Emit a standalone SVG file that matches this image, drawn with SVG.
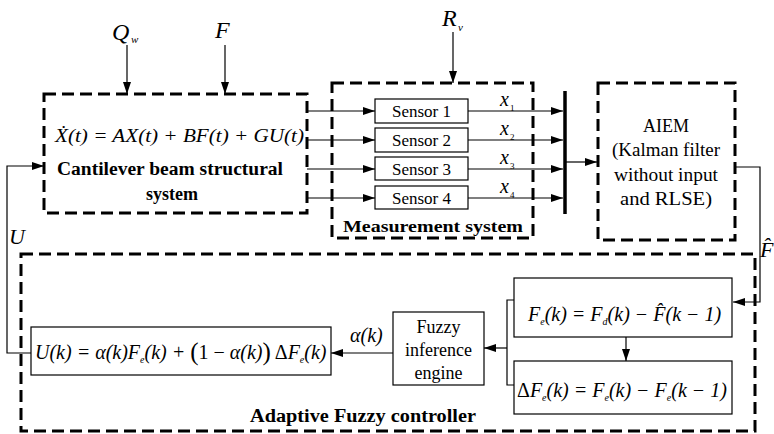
<svg xmlns="http://www.w3.org/2000/svg" width="774" height="434" viewBox="0 0 774 434" font-family="'Liberation Serif', Tinos, 'Times New Roman', 'Noto Serif', 'DejaVu Serif', serif">
<style>
  .dash { fill: none; stroke: #000; stroke-width: 3; stroke-dasharray: 12 6; }
  .box { fill: #fff; stroke: #000; stroke-width: 1.2; }
  .ln { fill: none; stroke: #000; stroke-width: 1.2; }
  .i { font-style: italic; }
  .b { font-weight: bold; }
</style>
<defs>
  <marker id="ah" viewBox="0 0 12 8" refX="12" refY="4" markerWidth="12" markerHeight="8" markerUnits="userSpaceOnUse" orient="auto">
    <path d="M0,0 L12,4 L0,8 Z" fill="#000"/>
  </marker>
</defs>
<rect width="774" height="434" fill="#fff"/>

<g id="inputs">
  <text class="i" x="112" y="40" font-size="24">Q</text>
  <text class="i" x="131" y="43" font-size="11">w</text>
  <text class="i" x="215" y="38" font-size="24">F</text>
  <text class="i" x="442" y="26" font-size="24">R</text>
  <text class="i" x="458" y="31" font-size="11">v</text>
</g>

<g id="cantilever">
  <rect class="dash" x="44" y="94" width="263" height="119"/>
  <text class="i" x="55" y="142" font-size="19" textLength="249" lengthAdjust="spacingAndGlyphs">Ẋ(t) = AX(t) + BF(t) + GU(t)</text>
  <text class="b" x="170" y="175" font-size="18" text-anchor="middle" textLength="226" lengthAdjust="spacingAndGlyphs">Cantilever beam structural</text>
  <text class="b" x="172" y="200" font-size="18" text-anchor="middle">system</text>
</g>

<g id="measurement">
  <rect class="dash" x="332" y="83" width="201" height="155"/>
  <text class="b" x="433" y="232" font-size="17" text-anchor="middle" textLength="180" lengthAdjust="spacingAndGlyphs">Measurement system</text>
</g>
<g id="sensor1"><rect class="box" x="375" y="99" width="93" height="24"/><text x="421.5" y="117" font-size="17" text-anchor="middle">Sensor 1</text></g>
<g id="sensor2"><rect class="box" x="375" y="128" width="93" height="24"/><text x="421.5" y="146" font-size="17" text-anchor="middle">Sensor 2</text></g>
<g id="sensor3"><rect class="box" x="375" y="157" width="93" height="23"/><text x="421.5" y="175" font-size="17" text-anchor="middle">Sensor 3</text></g>
<g id="sensor4"><rect class="box" x="375" y="186" width="93" height="23"/><text x="421.5" y="204" font-size="17" text-anchor="middle">Sensor 4</text></g>

<g id="xlabels">
  <text class="i" x="500" y="106" font-size="20">x</text><text x="510" y="111" font-size="9">1</text>
  <text class="i" x="500" y="135" font-size="20">x</text><text x="510" y="140" font-size="9">2</text>
  <text class="i" x="500" y="164" font-size="20">x</text><text x="510" y="169" font-size="9">3</text>
  <text class="i" x="500" y="193" font-size="20">x</text><text x="510" y="198" font-size="9">4</text>
</g>

<g id="bus">
  <line x1="565" y1="91" x2="565" y2="214" stroke="#000" stroke-width="3.5"/>
</g>

<g id="aiem">
  <rect class="dash" x="598" y="83" width="137" height="157"/>
  <text x="666" y="132" font-size="18" text-anchor="middle">AIEM</text>
  <text x="666" y="156" font-size="18" text-anchor="middle" textLength="108" lengthAdjust="spacingAndGlyphs">(Kalman filter</text>
  <text x="666" y="181" font-size="18" text-anchor="middle" textLength="104" lengthAdjust="spacingAndGlyphs">without input</text>
  <text x="666" y="205" font-size="18" text-anchor="middle" textLength="92" lengthAdjust="spacingAndGlyphs">and RLSE)</text>
</g>

<g id="adaptive">
  <rect class="dash" x="21" y="254" width="734" height="177"/>
  <text class="b" x="363" y="422" font-size="18" text-anchor="middle" textLength="226" lengthAdjust="spacingAndGlyphs">Adaptive Fuzzy controller</text>
</g>

<g id="fe">
  <rect class="box" x="514" y="278" width="218" height="59"/>
  <text class="i" x="528" y="321" font-size="20">F<tspan font-size="10" dy="4">e</tspan><tspan dy="-4">(k) = F</tspan><tspan font-size="10" dy="4">d</tspan><tspan dy="-4">(k) − F̂(k − 1)</tspan></text>
</g>

<g id="dfe">
  <rect class="box" x="514" y="361" width="218" height="53"/>
  <text class="i" x="517" y="397" font-size="20"><tspan font-style="normal">Δ</tspan>F<tspan font-size="10" dy="4">e</tspan><tspan dy="-4">(k) = F</tspan><tspan font-size="10" dy="4">e</tspan><tspan dy="-4">(k) − F</tspan><tspan font-size="10" dy="4">e</tspan><tspan dy="-4">(k − 1)</tspan></text>
</g>

<g id="fuzzy">
  <rect class="box" x="393" y="312" width="91" height="73"/>
  <text x="438.5" y="333" font-size="18" text-anchor="middle">Fuzzy</text>
  <text x="438.5" y="356" font-size="18" text-anchor="middle">inference</text>
  <text x="438.5" y="379" font-size="18" text-anchor="middle">engine</text>
</g>

<g id="ueq">
  <rect class="box" x="31" y="327" width="300" height="48"/>
  <text class="i" x="35" y="359" font-size="20">U(k) = α(k)F<tspan font-size="10" dy="4">e</tspan><tspan dy="-4">(k) + </tspan><tspan font-style="normal" font-size="25" dy="1">(</tspan><tspan font-style="normal" dy="-1">1 − </tspan>α(k)<tspan font-style="normal" font-size="25" dy="1">)</tspan><tspan font-style="normal" dy="-1"> Δ</tspan>F<tspan font-size="10" dy="4">e</tspan><tspan dy="-4">(k)</tspan></text>
</g>

<g id="labels">
  <text class="i" x="350" y="342" font-size="20">α(k)</text>
  <text class="i" x="9" y="244" font-size="22">U</text>
  <text class="i" x="760" y="257" font-size="22">F̂</text>
</g>

<g id="connectors">
  <line class="ln" x1="127" y1="45" x2="127" y2="94" marker-end="url(#ah)"/>
  <line class="ln" x1="225" y1="45" x2="225" y2="94" marker-end="url(#ah)"/>
  <line class="ln" x1="453" y1="32" x2="453" y2="83" marker-end="url(#ah)"/>
  <line class="ln" x1="307" y1="111" x2="375" y2="111" marker-end="url(#ah)"/>
  <line class="ln" x1="307" y1="140" x2="375" y2="140" marker-end="url(#ah)"/>
  <line class="ln" x1="307" y1="169" x2="375" y2="169" marker-end="url(#ah)"/>
  <line class="ln" x1="307" y1="198" x2="375" y2="198" marker-end="url(#ah)"/>
  <line class="ln" x1="468" y1="111" x2="563" y2="111" marker-end="url(#ah)"/>
  <line class="ln" x1="468" y1="140" x2="563" y2="140" marker-end="url(#ah)"/>
  <line class="ln" x1="468" y1="169" x2="563" y2="169" marker-end="url(#ah)"/>
  <line class="ln" x1="468" y1="198" x2="563" y2="198" marker-end="url(#ah)"/>
  <line class="ln" x1="565" y1="162" x2="597" y2="162" marker-end="url(#ah)"/>
  <polyline class="ln" points="735,167 760,167 760,302 733,302" marker-end="url(#ah)"/>
  <line class="ln" x1="626" y1="337" x2="626" y2="361" marker-end="url(#ah)"/>
  <polyline class="ln" points="514,300 507,300 507,385 514,385"/>
  <line class="ln" x1="507" y1="348" x2="484" y2="348" marker-end="url(#ah)"/>
  <line class="ln" x1="393" y1="353" x2="331" y2="353" marker-end="url(#ah)"/>
  <polyline class="ln" points="31,353 7,353 7,166 44,166" marker-end="url(#ah)"/>
</g>
</svg>
